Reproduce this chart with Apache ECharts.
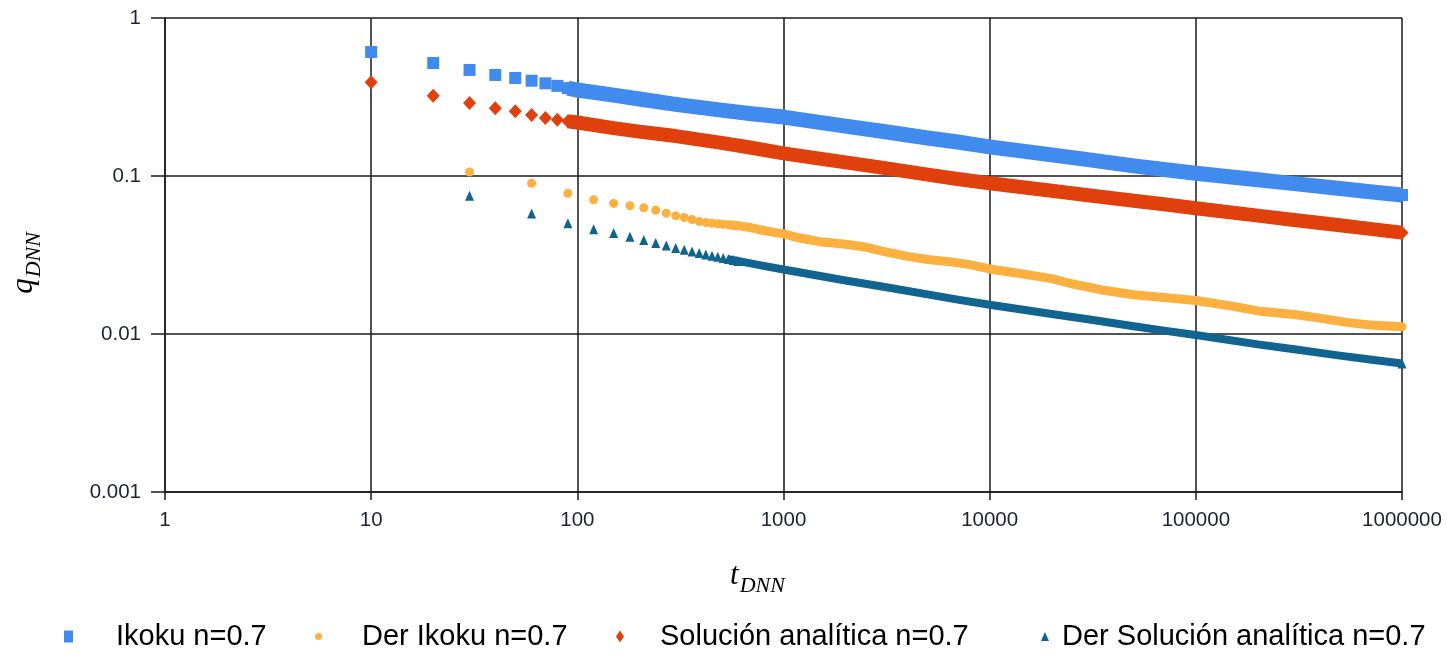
<!DOCTYPE html>
<html><head><meta charset="utf-8">
<script src="https://cdn.jsdelivr.net/npm/echarts@6/dist/echarts.min.js"></script>
<style>html,body{margin:0;padding:0;background:#fff}#c{width:1447px;height:660px}</style>
</head><body><div id="c"></div>
<script>
// ---- data ----
const xTickLabels = ['1','10','100','1000','10000','100000','1000000'];
const yTickLabels = ['0.001','0.01','0.1','1'];
const seriesNames = ['Ikoku n=0.7','Der Ikoku n=0.7','Solución analítica n=0.7','Der Solución analítica n=0.7'];

// individually visible markers (early times)
const ikokuT = [10,20,30,40,50,60,70,80,90,100];
const ikokuQ = [0.609,0.519,0.469,0.436,0.417,0.401,0.386,0.372,0.360,0.350];
const solT = [10,20,30,40,50,60,70,80,90,100];
const solQ = [0.392,0.322,0.290,0.268,0.257,0.243,0.233,0.227,0.222,0.218];
const derIkokuT = [30,60,90,120,150,180,210,240,270,300,330,360,390,420,450,480,510,540,570,600];
const derIkokuQ = [0.106,0.0899,0.0777,0.0708,0.0671,0.0649,0.0630,0.0607,0.0582,0.0560,0.0546,0.0530,0.0516,0.0508,0.0502,0.0498,0.0495,0.0492,0.0489,0.0485];
const derSolT = [30,60,90,120,150,180,210,240,270,300,330,360,390,420,450,480,510,540,570,600];
const derSolQ = [0.075,0.058,0.0503,0.0461,0.0436,0.0413,0.0394,0.0376,0.0363,0.0350,0.0341,0.0333,0.0326,0.0319,0.0313,0.0308,0.0303,0.0298,0.0294,0.0290];

// dense part, where markers merge into a continuous band
const ikokuBandT = [90,100,150,200,300,500,700,1000,2000,3000,5000,7000,10000,20000,30000,50000,70000,100000,200000,300000,500000,700000,1000000];
const ikokuBandQ = [0.360,0.350,0.325,0.307,0.284,0.261,0.248,0.236,0.207,0.192,0.174,0.164,0.153,0.136,0.127,0.116,0.110,0.104,0.0947,0.0895,0.0834,0.0795,0.0758];
const solBandT = [90,100,150,200,300,500,700,1000,2000,3000,5000,7000,10000,20000,30000,50000,70000,100000,200000,300000,500000,700000,1000000];
const solBandQ = [0.222,0.218,0.201,0.191,0.179,0.162,0.151,0.139,0.122,0.113,0.102,0.0957,0.0899,0.0806,0.0755,0.0697,0.0662,0.0625,0.0561,0.0527,0.0488,0.0463,0.0438];
const derIkokuBandT = [540,600,700,800,900,1000,1200,1500,2000,2500,3000,4000,5000,6500,8000,10000,13000,16000,20000,25000,35000,50000,70000,100000,150000,200000,300000,400000,550000,700000,1000000];
const derIkokuBandQ = [0.0492,0.0485,0.0470,0.0452,0.0440,0.0430,0.0405,0.0384,0.0370,0.0355,0.0335,0.0310,0.0296,0.0286,0.0275,0.0258,0.0245,0.0235,0.0224,0.0208,0.0190,0.0177,0.0170,0.0163,0.0150,0.0140,0.0133,0.0126,0.0118,0.0114,0.0111];
const derSolBandT = [540,600,800,1000,2000,3000,5000,7000,10000,20000,30000,50000,70000,100000,200000,300000,500000,700000,1000000];
const derSolBandQ = [0.0298,0.0290,0.0270,0.0256,0.0218,0.0200,0.0178,0.0165,0.0153,0.0134,0.0124,0.0112,0.0105,0.00986,0.0086,0.0080,0.0073,0.0069,0.0065];

const colors = ['#418BEF','#FBB040','#E0400C','#11648F'];

// ---- chart ----
const pairs = (t, q) => t.map((v, i) => [v, q[i]]);
const withLast = (t, q, bt, bq) => pairs(t, q).concat([[bt[bt.length-1], bq[bq.length-1]]]);
const chart = echarts.init(document.getElementById('c'), null, {renderer: 'canvas'});
const axisCol = '#1a1a1a';
const labelFont = {fontFamily: 'Liberation Sans', fontSize: 20.5, color: '#1d2436'};

function legendFor(i, left, w, h, icon, pad) {
  return {
    data: [seriesNames[i]], left: left, top: 622, padding: 0,
    itemWidth: w, itemHeight: h, icon: icon, selectedMode: false,
    itemStyle: {opacity: 1},
    textStyle: {fontFamily: 'Liberation Sans', fontSize: 29, color: '#000', padding: [0,0,0,pad]}
  };
}

chart.setOption({
  animation: false,
  backgroundColor: '#fff',
  grid: {left: 164, top: 18, width: 1238, height: 474, containLabel: false},
  xAxis: {
    type: 'log', logBase: 10, min: 1, max: 1000000, interval: 1,
    axisLine: {show: true, lineStyle: {color: axisCol, width: 1.5}},
    axisTick: {show: true, inside: false, length: 8, lineStyle: {color: axisCol, width: 1.5}},
    minorTick: {show: false},
    splitLine: {show: true, lineStyle: {color: axisCol, width: 1.5}},
    axisLabel: Object.assign({margin: 18, formatter: v => xTickLabels[Math.round(Math.log10(v))]}, labelFont),
    name: '{t|t}{s|DNN}', nameLocation: 'middle', nameGap: 68,
    nameTextStyle: {padding: [0, 52, 0, 0], rich: {
      t: {fontFamily: 'Liberation Serif', fontStyle: 'italic', fontSize: 31, color: '#000', verticalAlign: 'bottom', padding: [0,1,6,0]},
      s: {fontFamily: 'Liberation Serif', fontStyle: 'italic', fontSize: 22, color: '#000', verticalAlign: 'bottom'}
    }}
  },
  yAxis: {
    type: 'log', logBase: 10, min: 0.001, max: 1, interval: 1,
    axisLine: {show: true, lineStyle: {color: axisCol, width: 1.5}},
    axisTick: {show: true, inside: false, length: 14, lineStyle: {color: axisCol, width: 1.5}},
    minorTick: {show: false},
    splitLine: {show: true, lineStyle: {color: axisCol, width: 1.5}},
    axisLabel: Object.assign({margin: 24, formatter: v => yTickLabels[Math.round(Math.log10(v)) + 3]}, labelFont),
    name: '{q|q}{s|DNN}', nameLocation: 'middle', nameGap: 120, nameRotate: 90,
    nameTextStyle: {padding: [0, 16, 0, 0], rich: {
      q: {fontFamily: 'Liberation Serif', fontStyle: 'italic', fontSize: 31, color: '#000', verticalAlign: 'bottom', padding: [0,1,6,0]},
      s: {fontFamily: 'Liberation Serif', fontStyle: 'italic', fontSize: 22, color: '#000', verticalAlign: 'bottom'}
    }}
  },
  legend: [
    legendFor(0, 64, 9, 12, 'rect', 38),
    legendFor(1, 315, 7, 8, 'circle', 35),
    legendFor(2, 616, 8, 12, 'diamond', 31),
    legendFor(3, 1041, 8, 9, 'triangle', 8)
  ],
  series: [
    {name: 'band0', type: 'line', data: pairs(ikokuBandT, ikokuBandQ), showSymbol: false, clip: false,
     lineStyle: {color: colors[0], width: 15, cap: 'butt', join: 'round', opacity: 1}, z: 2},
    {name: 'band2', type: 'line', data: pairs(solBandT, solBandQ), showSymbol: false, clip: false,
     lineStyle: {color: colors[2], width: 14, cap: 'butt', join: 'round', opacity: 1}, z: 2},
    {name: 'band1', type: 'line', data: pairs(derIkokuBandT, derIkokuBandQ), showSymbol: false, clip: false,
     lineStyle: {color: colors[1], width: 9, cap: 'butt', join: 'round', opacity: 1}, z: 2},
    {name: 'band3', type: 'line', data: pairs(derSolBandT, derSolBandQ), showSymbol: false, clip: false,
     lineStyle: {color: colors[3], width: 8, cap: 'butt', join: 'round', opacity: 1}, z: 2},
    {name: seriesNames[0], type: 'scatter', symbol: 'rect', symbolSize: 12, clip: false,
     data: withLast(ikokuT, ikokuQ, ikokuBandT, ikokuBandQ), itemStyle: {color: colors[0], opacity: 1}, z: 3},
    {name: seriesNames[1], type: 'scatter', symbol: 'circle', symbolSize: 9, clip: false,
     data: withLast(derIkokuT, derIkokuQ, derIkokuBandT, derIkokuBandQ), itemStyle: {color: colors[1], opacity: 1}, z: 3},
    {name: seriesNames[2], type: 'scatter', symbol: 'diamond', symbolSize: [13, 14], clip: false,
     data: withLast(solT, solQ, solBandT, solBandQ), itemStyle: {color: colors[2], opacity: 1}, z: 3},
    {name: seriesNames[3], type: 'scatter', symbol: 'triangle', symbolSize: [9, 10], clip: false,
     data: withLast(derSolT, derSolQ, derSolBandT, derSolBandQ), itemStyle: {color: colors[3], opacity: 1}, z: 3}
  ]
});
</script>
</body></html>
